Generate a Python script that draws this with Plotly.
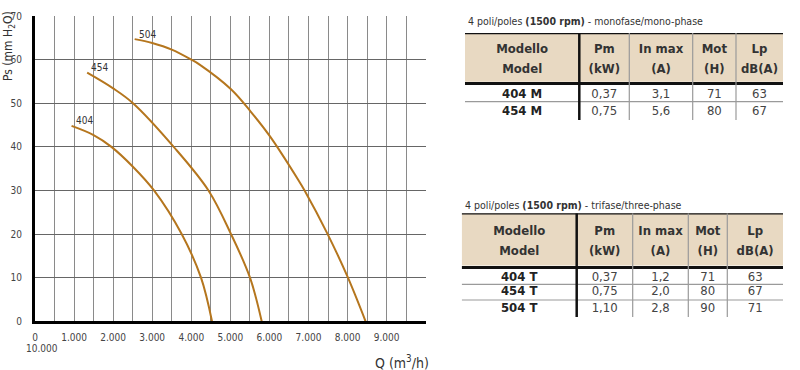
import plotly.graph_objects as go

W, H = 800, 370
FONT = "DejaVu Sans Condensed, Liberation Sans Narrow, Arial Narrow, sans-serif"
CURVE = "#B5761E"
BEIGE = "#E8D9C2"

# ---------------- data ----------------
q_404 = [936, 1500, 1956, 2500, 3046, 3754, 4249, 4530]
ps_404 = [44.8, 42.7, 40.0, 35.5, 30.0, 20.0, 10.0, 0.0]
q_454 = [1335, 2000, 2508, 3550, 4440, 5017, 5503, 5802]
ps_454 = [57.0, 53.4, 50.0, 40.0, 30.0, 20.0, 10.0, 0.0]
q_504 = [2551, 3000, 3500, 4000, 4223, 5017, 5520, 6015, 6740, 6900, 7490, 8010, 8461]
ps_504 = [64.7, 63.8, 62.3, 60.0, 58.8, 53.2, 48.1, 42.4, 32.4, 30.0, 20.0, 10.0, 0.0]
curve_names = ["404", "454", "504"]

x_tickvals = [0, 500, 1000, 1500, 2000, 2500, 3000, 3500, 4000, 4500, 5000,
              5500, 6000, 6500, 7000, 7500, 8000, 8500, 9000, 9500, 10000]
x_ticktext = ["0", "", "1.000", "", "2.000", "", "3.000", "", "4.000", "", "5.000",
              "", "6.000", "", "7.000", "", "8.000", "", "9.000", "", ""]
y_tickvals = [0, 10, 20, 30, 40, 50, 60, 70]

header_line1 = ["Modello", "Pm", "In max", "Mot", "Lp"]
header_line2 = ["Model", "(kW)", "(A)", "(H)", "dB(A)"]

t1_title = "4 poli/poles <b>(1500 rpm)</b> - monofase/mono-phase"
t1_model = ["404 M", "454 M"]
t1_pm = ["0,37", "0,75"]
t1_in = ["3,1", "5,6"]
t1_mot = ["71", "80"]
t1_lp = ["63", "67"]

t2_title = "4 poli/poles <b>(1500 rpm)</b> - trifase/three-phase"
t2_model = ["404 T", "454 T", "504 T"]
t2_pm = ["0,37", "0,75", "1,10"]
t2_in = ["1,2", "2,0", "2,8"]
t2_mot = ["71", "80", "90"]
t2_lp = ["63", "67", "71"]

# ---------------- figure ----------------
fig = go.Figure()

for name, q, ps in zip(curve_names, [q_404, q_454, q_504], [ps_404, ps_454, ps_504]):
    fig.add_trace(go.Scatter(x=q, y=ps, mode="lines", name=name,
                             line=dict(color=CURVE, width=2, shape="spline", smoothing=1.0),
                             hoverinfo="skip"))
    fig.add_annotation(x=q[0], y=ps[0], text=name, showarrow=False,
                       xanchor="left", yanchor="middle", xshift=2, yshift=5,
                       font=dict(family=FONT, size=10, color="#333"))


def px_x(p):
    return p / W


def px_y(p):
    return 1 - p / H


layout_axes = {}


def add_table(n, title, cols, edges, top, fill_bottom, thick_y, head_ys,
              row_ys, sep_ys, bottom, title_y):
    xa, ya = f"x{n}", f"y{n}"
    x0, x1 = edges[0], edges[-1]
    layout_axes[f"xaxis{n}"] = dict(domain=[px_x(x0), px_x(x1)], range=[x0, x1],
                                    visible=False, fixedrange=True, automargin=False)
    layout_axes[f"yaxis{n}"] = dict(domain=[px_y(bottom), px_y(top)], range=[bottom, top],
                                    visible=False, fixedrange=True, automargin=False)
    centers = [(edges[i] + edges[i + 1]) / 2 for i in range(len(edges) - 1)]

    # header fill
    fig.add_shape(type="rect", xref=xa, yref=ya, x0=x0, x1=x1, y0=top, y1=fill_bottom,
                  fillcolor=BEIGE, line=dict(width=0), layer="below")
    # header text
    for line_vals, yy in zip([header_line1, header_line2], head_ys):
        fig.add_trace(go.Scatter(x=centers, y=[yy] * len(centers), xaxis=xa, yaxis=ya,
                                 mode="text", text=[f"<b>{v}</b>" for v in line_vals],
                                 textposition="middle center", cliponaxis=False,
                                 textfont=dict(family=FONT, size=13, color="#333"),
                                 hoverinfo="skip"))
    # body text
    for ci, col in enumerate(cols):
        txt = [f"<b>{v}</b>" for v in col] if ci == 0 else list(col)
        fig.add_trace(go.Scatter(x=[centers[ci]] * len(col), y=row_ys[:len(col)],
                                 xaxis=xa, yaxis=ya, mode="text", text=txt,
                                 textposition="middle center", cliponaxis=False,
                                 textfont=dict(family=FONT, size=13,
                                               color="#222" if ci == 0 else "#444"),
                                 hoverinfo="skip"))
    # title
    fig.add_annotation(xref="paper", yref="paper", x=px_x(x0 + 1), y=px_y(title_y),
                       text=title, showarrow=False, xanchor="left", yanchor="middle",
                       font=dict(family=FONT, size=10.5, color="#333"))
    # rules
    segs = [(x0, top, x1, top, "#111", 2.5),
            (x0, thick_y, x1, thick_y, "#111", 3)]
    for yy in sep_ys:
        segs.append((x0, yy, x1, yy, "#9a9a9a", 1.2))
    segs.append((edges[1], top, edges[1], bottom, "#111", 2.5))
    for e in edges[2:-1]:
        segs.append((e, top, e, bottom, "#9a9a9a", 1.2))
    for (a, b, c, d, colr, wd) in segs:
        fig.add_shape(type="line", xref=xa, yref=ya, x0=a, y0=b, x1=c, y1=d,
                      line=dict(color=colr, width=wd))


add_table(2, t1_title, [t1_model, t1_pm, t1_in, t1_mot, t1_lp],
          [465, 579.3, 629.3, 692.7, 736, 783],
          33, 81.7, 83.5, [50, 70], [95, 111.7], [101.7], 120, 20.7)
add_table(3, t2_title, [t2_model, t2_pm, t2_in, t2_mot, t2_lp],
          [461.7, 576.7, 632.7, 688.3, 727.3, 783],
          213.3, 265.5, 267.5, [231.7, 251.7], [277.3, 292, 308.3], [284.3, 300], 317, 205)

fig.add_annotation(xref="x", yref="paper", x=0, y=px_y(348.5), text="10.000",
                   showarrow=False, xanchor="center", yanchor="middle", xshift=7,
                   font=dict(family=FONT, size=10, color="#444"))
fig.add_annotation(xref="paper", yref="paper", x=px_x(9), y=px_y(46),
                   text="Ps (mm H<sub>2</sub>O)", textangle=-90, showarrow=False,
                   xanchor="center", yanchor="middle",
                   font=dict(family=FONT, size=12, color="#333"))
fig.add_annotation(xref="paper", yref="paper", x=px_x(402), y=px_y(362),
                   text="Q (m<sup>3</sup>/h)", showarrow=False,
                   xanchor="center", yanchor="middle",
                   font=dict(family=FONT, size=14, color="#333"))

fig.update_layout(
    width=W, height=H, margin=dict(l=0, r=0, t=0, b=0, autoexpand=False),
    paper_bgcolor="white", plot_bgcolor="white", showlegend=False,
    font=dict(family=FONT, color="#444"),
    xaxis=dict(domain=[px_x(35), px_x(425.7)], range=[0, 10000], automargin=False,
               tickmode="array", tickvals=x_tickvals, ticktext=x_ticktext,
               showgrid=True, gridcolor="#8a8a8a", gridwidth=1, zeroline=False,
               showline=True, linecolor="black", linewidth=3,
               ticks="", ticklabelstandoff=5,
               tickfont=dict(family=FONT, size=10, color="#444")),
    yaxis=dict(domain=[px_y(321.3), px_y(16)], range=[0, 70], automargin=False,
               tickmode="array", tickvals=y_tickvals,
               showgrid=True, gridcolor="#666", gridwidth=1, zeroline=False,
               showline=True, linecolor="black", linewidth=3,
               ticks="", ticklabelstandoff=8,
               tickfont=dict(family=FONT, size=10, color="#444")),
    **layout_axes,
)

fig.write_html("out.html", config={"displayModeBar": False},
               post_script="document.body.style.margin='0';document.body.style.overflow='hidden';")
